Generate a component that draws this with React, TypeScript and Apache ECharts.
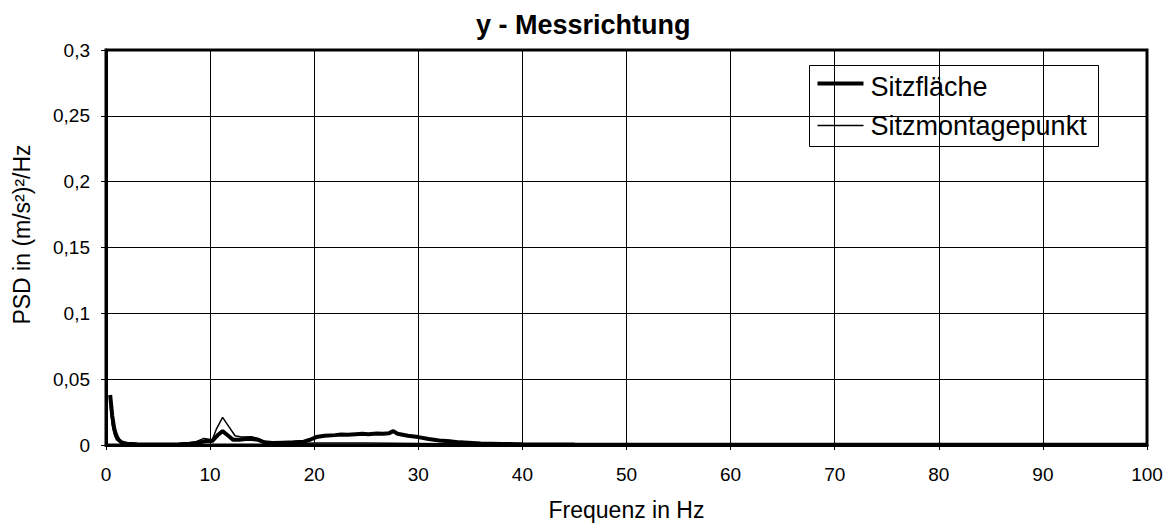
import React, { useEffect, useRef } from "react";
import * as echarts from "echarts";

const titleText = "y - Messrichtung";
const xAxisName = "Frequenz in Hz";
const yAxisName = "PSD in (m/s²)²/Hz";
const seriesNames = ["Sitzfläche", "Sitzmontagepunkt"];

const sitzFreq = [0.4, 0.6, 0.8, 1.0, 1.2, 1.5, 2, 3, 5, 7, 8, 9, 9.6, 10.2, 10.8, 11.2, 11.6, 12.2, 12.8, 13.4, 14, 14.6, 15.2, 16, 17, 18, 19, 19.6, 20.2, 21, 22, 22.6, 23.2, 24, 24.6, 25.2, 26, 26.6, 27.2, 27.6, 28, 29, 30, 31, 32, 33, 34, 36, 38, 40, 45, 50, 60, 70, 80, 90, 100];
const sitzVals = [0.038, 0.022, 0.012, 0.007, 0.004, 0.002, 0.001, 0.0005, 0.0003, 0.0005, 0.001, 0.002, 0.003, 0.003, 0.008, 0.0105, 0.008, 0.004, 0.004, 0.0045, 0.0045, 0.004, 0.002, 0.0015, 0.0018, 0.002, 0.0025, 0.004, 0.006, 0.007, 0.0075, 0.008, 0.0078, 0.0082, 0.0085, 0.0082, 0.0088, 0.0085, 0.009, 0.0105, 0.0085, 0.007, 0.006, 0.0045, 0.0035, 0.0028, 0.002, 0.0012, 0.0008, 0.0005, 0.0003, 0.0002, 0.0001, 0.0001, 0.0001, 0.0001, 0.0001];

const montFreq = [0.4, 0.6, 0.8, 1.0, 1.5, 2, 4, 7, 8.5, 9.4, 10.2, 10.6, 11.2, 11.8, 12.4, 13, 14, 14.6, 15.4, 16, 18, 20, 25, 30, 35, 40, 50, 60, 70, 80, 90, 100];
const montVals = [0.03, 0.015, 0.008, 0.004, 0.0015, 0.0008, 0.0003, 0.0006, 0.002, 0.005, 0.004, 0.012, 0.021, 0.014, 0.007, 0.006, 0.0062, 0.005, 0.002, 0.0012, 0.001, 0.0015, 0.0015, 0.0012, 0.0008, 0.0004, 0.0002, 0.0001, 0.0001, 0.0001, 0.0001, 0.0001];

const FONT = "Liberation Sans, Arial, sans-serif";

export default function App() {
  const ref = useRef<HTMLDivElement>(null);
  useEffect(() => {
    if (!ref.current) return;
    const chart = echarts.init(ref.current, null, { renderer: "svg" });
    const pairs = (f: number[], v: number[]) => f.map((x, i) => [x, v[i]]);
    chart.setOption({
      animation: false,
      backgroundColor: "#fff",
      title: {
        text: titleText,
        left: 471,
        top: 6,
        textStyle: { fontFamily: FONT, fontSize: 27, fontWeight: "bold", color: "#000" },
      },
      grid: {
        left: 106,
        right: 20,
        top: 50,
        bottom: 79,
        show: true,
        borderColor: "#000",
        borderWidth: 3,
        backgroundColor: "#fff",
      },
      xAxis: {
        type: "value",
        min: 0,
        max: 100,
        interval: 10,
        name: xAxisName,
        nameLocation: "middle",
        nameGap: 53,
        nameTextStyle: { fontFamily: FONT, fontSize: 23, color: "#000" },
        axisLine: { show: true, lineStyle: { color: "#000", width: 3 } },
        axisTick: { show: true, length: 5, lineStyle: { color: "#000", width: 1 } },
        axisLabel: { margin: 20, fontFamily: FONT, fontSize: 19, color: "#000" },
        splitLine: { show: true, lineStyle: { color: "#000", width: 1 } },
      },
      yAxis: {
        type: "value",
        min: 0,
        max: 0.3,
        interval: 0.05,
        name: yAxisName,
        nameLocation: "middle",
        nameRotate: 90,
        nameGap: 73,
        nameTextStyle: { fontFamily: FONT, fontSize: 23, color: "#000", padding: [0, 0, 0, 26] },
        axisLine: { show: true, lineStyle: { color: "#000", width: 3 } },
        axisTick: { show: true, length: 5, lineStyle: { color: "#000", width: 1 } },
        axisLabel: {
          margin: 16,
          fontFamily: FONT,
          fontSize: 19,
          color: "#000",
          formatter: (v: number) => String(Math.round(v * 1000) / 1000).replace(".", ","),
        },
        splitLine: { show: true, lineStyle: { color: "#000", width: 1 } },
      },
      series: [
        {
          name: seriesNames[1],
          type: "line",
          data: pairs(montFreq, montVals),
          showSymbol: false,
          lineStyle: { color: "#000", width: 1.5 },
          itemStyle: { color: "#000" },
        },
        {
          name: seriesNames[0],
          type: "line",
          data: pairs(sitzFreq, sitzVals),
          showSymbol: false,
          lineStyle: { color: "#000", width: 4 },
          itemStyle: { color: "#000" },
        },
      ],
      graphic: [
        {
          type: "group",
          left: 809,
          top: 65,
          z: 100,
          children: [
            { type: "rect", shape: { x: 0, y: 0, width: 289, height: 81 }, style: { fill: "#fff", stroke: "#000", lineWidth: 1 } },
            { type: "line", shape: { x1: 8, y1: 18, x2: 54, y2: 18 }, style: { stroke: "#000", lineWidth: 4 } },
            { type: "text", x: 61, y: 21, style: { text: seriesNames[0], fontFamily: FONT, fontSize: 27, fill: "#000", verticalAlign: "middle" } },
            { type: "line", shape: { x1: 8, y1: 60, x2: 54, y2: 60 }, style: { stroke: "#000", lineWidth: 1.5 } },
            { type: "text", x: 61, y: 60, style: { text: seriesNames[1], fontFamily: FONT, fontSize: 27, fill: "#000", verticalAlign: "middle" } },
          ],
        },
      ],
    });
    return () => chart.dispose();
  }, []);
  return <div ref={ref} style={{ width: 1167, height: 526, position: "absolute", left: 0, top: 0 }} />;
}
